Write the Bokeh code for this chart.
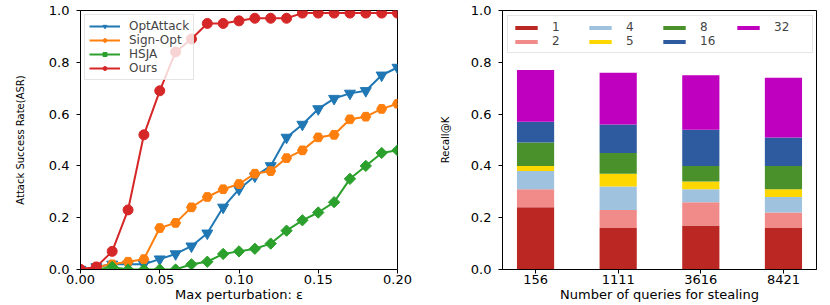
import numpy as np
from bokeh.plotting import figure
from bokeh.layouts import row
from bokeh.models import FixedTicker, PrintfTickFormatter, Range1d
from bokeh.embed import file_html
from bokeh.resources import INLINE

# ---------------- data: left panel ----------------
eps = [0.00, 0.01, 0.02, 0.03, 0.04, 0.05, 0.06, 0.07, 0.08, 0.09, 0.10,
       0.11, 0.12, 0.13, 0.14, 0.15, 0.16, 0.17, 0.18, 0.19, 0.20]
opt_attack = [0.00, 0.01, 0.02, 0.02, 0.02, 0.04, 0.06, 0.09, 0.14, 0.24, 0.31,
              0.36, 0.40, 0.51, 0.56, 0.62, 0.66, 0.68, 0.69, 0.75, 0.78]
sign_opt = [0.00, 0.01, 0.02, 0.03, 0.04, 0.16, 0.18, 0.24, 0.28, 0.31, 0.33,
            0.37, 0.38, 0.43, 0.46, 0.51, 0.52, 0.58, 0.59, 0.62, 0.64]
hsja = [0.00, 0.00, 0.01, 0.00, 0.00, 0.00, 0.00, 0.02, 0.03, 0.06, 0.07,
        0.08, 0.10, 0.15, 0.19, 0.22, 0.26, 0.35, 0.40, 0.45, 0.46]
ours = [0.00, 0.01, 0.07, 0.23, 0.52, 0.69, 0.84, 0.89, 0.95, 0.95, 0.96,
        0.97, 0.97, 0.97, 0.99, 0.99, 0.99, 0.99, 0.99, 0.99, 0.99]
series_names = ["OptAttack", "Sign-Opt", "HSJA", "Ours"]
series_colors = ["#1f77b4", "#ff7f0e", "#2ca02c", "#d62728"]
x_ticks_left = [0.00, 0.05, 0.10, 0.15, 0.20]
y_ticks = [0.0, 0.2, 0.4, 0.6, 0.8, 1.0]

# ---------------- data: right panel ----------------
queries = ["156", "1111", "3616", "8421"]
k_labels = ["1", "2", "4", "5", "8", "16", "32"]
k1 = [0.24, 0.16, 0.17, 0.16]
k2 = [0.07, 0.07, 0.09, 0.06]
k4 = [0.07, 0.09, 0.05, 0.06]
k5 = [0.02, 0.05, 0.03, 0.03]
k8 = [0.09, 0.08, 0.06, 0.09]
k16 = [0.08, 0.11, 0.14, 0.11]
k32 = [0.20, 0.20, 0.21, 0.23]
k_colors = ["#bb2723", "#f08b89", "#9fc3df", "#ffd700", "#4b912b", "#2e5b9f", "#bf00bf"]

FONT = "DejaVu Sans"
TICK_FS = "13px"
XLABEL_FS = "13px"
YLABEL_FS = "10px"


def style_axes(p, ylabel_standoff):
    p.outline_line_color = "black"
    p.outline_line_width = 1
    p.xgrid.visible = False
    p.ygrid.visible = False
    for ax in (p.xaxis[0], p.yaxis[0]):
        ax.axis_line_color = "black"
        ax.major_tick_line_color = "black"
        ax.major_tick_in = 0
        ax.major_tick_out = 4
        ax.minor_tick_line_color = None
        ax.major_label_text_font = FONT
        ax.major_label_text_font_size = TICK_FS
        ax.major_label_text_color = "black"
        ax.axis_label_text_font = FONT
        ax.axis_label_text_font_style = "normal"
        ax.axis_label_text_color = "black"
    p.xaxis[0].axis_label_text_font_size = XLABEL_FS
    p.yaxis[0].axis_label_text_font_size = YLABEL_FS
    p.xaxis[0].major_label_standoff = 1
    p.xaxis[0].axis_label_standoff = 0
    p.yaxis[0].major_label_standoff = 7
    p.yaxis[0].axis_label_standoff = ylabel_standoff
    p.yaxis[0].ticker = FixedTicker(ticks=y_ticks)
    p.yaxis[0].formatter = PrintfTickFormatter(format="%.1f")


# ---------------- left figure ----------------
p1 = figure(width=432, height=305, output_backend="svg", toolbar_location=None,
            x_range=Range1d(0.0, 0.2), y_range=Range1d(0.0, 1.0),
            min_border_left=80, min_border_right=35, min_border_top=10, min_border_bottom=36,
            x_axis_label="Max perturbation: \u03b5", y_axis_label="Attack Success Rate(ASR)")
style_axes(p1, 20)
p1.xaxis[0].ticker = FixedTicker(ticks=x_ticks_left)
p1.xaxis[0].formatter = PrintfTickFormatter(format="%.2f")

all_series = [opt_attack, sign_opt, hsja, ours]
markers = [("inverted_triangle", 11, 0.0), ("hex", 10, 0.0),
           ("square", 8, np.pi / 4), ("circle", 10, 0.0)]
for name, color, ys, (mk, sz, ang) in zip(series_names, series_colors, all_series, markers):
    p1.line(eps, ys, line_color=color, line_width=2, legend_label=name)
    p1.scatter(eps, ys, marker=mk, size=sz, angle=ang, fill_color=color,
               line_color=color, legend_label=name)

lg = p1.legend[0]
lg.location = "top_left"
lg.margin = 4
lg.padding = 4
lg.spacing = 0
lg.glyph_width = 31
lg.glyph_height = 10
lg.label_height = 10
lg.label_standoff = 9
lg.label_text_font = FONT
lg.label_text_font_size = "12px"
lg.border_line_color = "#cccccc"
lg.border_line_width = 1
lg.background_fill_alpha = 0.8

# ---------------- right figure ----------------
xpos = [0, 1, 2, 3]
data = {"x": xpos}
for lab, vals in zip(k_labels, [k1, k2, k4, k5, k8, k16, k32]):
    data[lab] = vals

p2 = figure(width=396, height=305, output_backend="svg", toolbar_location=None,
            x_range=Range1d(-0.4, 3.4), y_range=Range1d(0.0, 1.0),
            min_border_left=70, min_border_right=12, min_border_top=10, min_border_bottom=36,
            x_axis_label="Number of queries for stealing", y_axis_label="Recall@K")
style_axes(p2, 17)
p2.xaxis[0].ticker = FixedTicker(ticks=xpos)
p2.xaxis[0].major_label_overrides = {i: q for i, q in zip(xpos, queries)}

p2.vbar_stack(k_labels, x="x", width=0.45, source=data, color=k_colors,
              line_color=None, legend_label=k_labels)

lg2 = p2.legend[0]
lg2.location = "top_left"
lg2.margin = 5
lg2.padding = 4
lg2.spacing = 0
lg2.orientation = "vertical"
lg2.nrows = 2
lg2.glyph_width = 28
lg2.glyph_height = 5
lg2.label_height = 10
lg2.label_width = 34
lg2.label_standoff = 12
lg2.label_text_font = FONT
lg2.label_text_font_size = "12px"
lg2.border_line_color = "#cccccc"
lg2.border_line_width = 1
lg2.background_fill_alpha = 0.8

layout = row(p1, p2)
open("out.html", "w").write(file_html(layout, INLINE))
